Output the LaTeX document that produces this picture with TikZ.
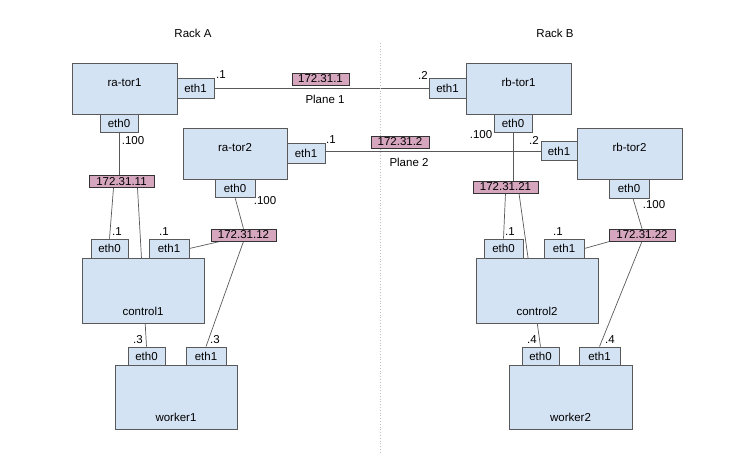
\documentclass[tikz,border=0pt]{standalone}
\usepackage{fontspec}
\setmainfont{Liberation Sans}
\usepackage{tikz}
\usetikzlibrary{positioning,backgrounds,calc}
\definecolor{hostblue}{HTML}{D4E3F4}
\definecolor{netpink}{HTML}{D5A6BD}
\definecolor{edge}{HTML}{595959}
\tikzstyle{host} = [rectangle, draw=edge, fill=hostblue, line width=0.8pt, inner sep=0pt]
\tikzstyle{port} = [rectangle, draw=edge, fill=hostblue, line width=0.8pt, inner sep=0pt, minimum width=38pt, minimum height=19pt]
\tikzstyle{net} = [rectangle, draw=black!80, fill=netpink, line width=0.7pt, inner sep=0pt, minimum height=12pt]
\tikzstyle{addr} = [inner sep=0pt]
\tikzstyle{link} = [draw=edge, line width=0.7pt]

\begin{document}
\begin{tikzpicture}[x=1pt, y=-1pt, font=\fontsize{11.5}{13}\selectfont]
        \useasboundingbox (0,0) rectangle (753,471);

        \node (za) at (193,33) {Rack A};
        \node (zb) at (555,33) {Rack B};
        \draw[dotted, black!25, line width=0.8pt] (380,43) -- (380,452);

        \node[host, minimum width=105pt, minimum height=51pt] (a1) at (124.5,88.5) {};
        \node[host, minimum width=104pt, minimum height=51pt] (a2) at (235,153.5) {};
        \node[host, minimum width=105pt, minimum height=51pt] (b1) at (518.5,88.5) {};
        \node[host, minimum width=105pt, minimum height=51pt] (b2) at (629.5,153.5) {};
        \node[host, minimum width=122pt, minimum height=65pt] (c1) at (143,290.5) {};
        \node[host, minimum width=122pt, minimum height=64pt] (w1) at (176,397) {};
        \node[host, minimum width=122pt, minimum height=65pt] (c2) at (537,290.5) {};
        \node[host, minimum width=123pt, minimum height=64pt] (w2) at (570.5,397) {};

        \node (h1) at ([yshift=-20pt]a1.north) {ra-tor1};
        \node (h2) at ([yshift=-20pt]a2.north) {ra-tor2};
        \node (h3) at ([yshift=-20pt]b1.north) {rb-tor1};
        \node (h4) at ([yshift=-20pt]b2.north) {rb-tor2};
        \node (h5) at ([yshift=12pt]c1.south) {control1};
        \node (h6) at ([yshift=12pt]w1.south) {worker1};
        \node (h7) at ([yshift=12pt]c2.south) {control2};
        \node (h8) at ([yshift=12pt]w2.south) {worker2};

        \node[port, minimum width=37pt, minimum height=20pt] (a1e1) at (195.5,88) {eth1};
        \node[port, minimum height=18pt] (a1e0) at (119,123) {eth0};
        \node[port, minimum height=20pt] (a2e1) at (306,153) {eth1};
        \node[port, minimum width=40pt, minimum height=18pt] (a2e0) at (235,188) {eth0};
        \node[port, minimum width=37pt, minimum height=20pt] (b1e1) at (447.5,88) {eth1};
        \node[port, minimum height=18pt] (b1e0) at (513,123) {eth0};
        \node[port, minimum width=36pt] (b2e1) at (559,151) {eth1};
        \node[port, minimum width=40pt] (b2e0) at (629,188.5) {eth0};
        \node[port, minimum width=37pt] (c1e0) at (109.5,248.5) {eth0};
        \node[port, minimum width=40pt] (c1e1) at (169,248.5) {eth1};
        \node[port, minimum width=37pt, minimum height=18pt] (w1e0) at (146.5,356) {eth0};
        \node[port, minimum width=40pt, minimum height=18pt] (w1e1) at (206,356) {eth1};
        \node[port, minimum width=39pt] (c2e0) at (503.5,248.5) {eth0};
        \node[port, minimum width=40pt] (c2e1) at (564,248.5) {eth1};
        \node[port, minimum width=37pt, minimum height=18pt] (w2e0) at (540.5,356) {eth0};
        \node[port, minimum width=41pt, minimum height=18pt] (w2e1) at (599.5,356) {eth1};

        \node[net, minimum width=57pt] (n1) at (320.5,79) {172.31.1};
        \node[net, minimum width=58pt] (n2) at (400,142) {172.31.2};
        \node[net, minimum width=65pt] (n11) at (121.5,181.5) {172.31.11};
        \node[net, minimum width=65pt] (n12) at (243.5,235) {172.31.12};
        \node[net, minimum width=65pt] (n21) at (505.5,187) {172.31.21};
        \node[net, minimum width=66pt] (n22) at (642,235) {172.31.22};

        \node (p1) at (325,99) {Plane 1};
        \node (p2) at (409,162) {Plane 2};

        \begin{scope}[on background layer]
        \draw[link] (a1e1.east) -- (b1e1.west);
        \draw[link] (a2e1.east |- b2e1) -- (b2e1.west);
        \draw[link] (a1e0.south) -- (a1e0.south |- n11.north);
        \draw[link] (b1e0.south) -- (b1e0.south |- n21.north);
        \draw[link] ([xshift=-8pt]n11.south) -- (c1e0.north);
        \draw[link] ([xshift=16pt]n11.south) -- (w1e0.north);
        \draw[link] (a2e0.south) -- (n12.north);
        \draw[link] ([xshift=-23pt]n12.south) -- (c1e1.east);
        \draw[link] (n12.south) -- (w1e1.north);
        \draw[link] (n21.south) -- (c2e0.north);
        \draw[link] ([xshift=13.5pt]n21.south) -- (w2e0.north);
        \draw[link] ([xshift=4pt]b2e0.south) -- (n22.north);
        \draw[link] ([xshift=-32pt]n22.south) -- (c2e1.east);
        \draw[link] (n22.south) -- (w2e1.north);
        \end{scope}

        \node[addr] (t1) at (221,75) {.1};
        \node[addr] (t2) at (133,141) {.100};
        \node[addr] (t3) at (331,140) {.1};
        \node[addr] (t4) at (265,201) {.100};
        \node[addr] (t5) at (423,75) {.2};
        \node[addr] (t6) at (481,135) {.100};
        \node[addr] (t7) at (534,140) {.2};
        \node[addr] (t8) at (654,205) {.100};
        \node[addr] (t9) at (117,232) {.1};
        \node[addr] (t10) at (164,232) {.1};
        \node[addr] (t11) at (138,340) {.3};
        \node[addr] (t12) at (215,340) {.3};
        \node[addr] (t13) at (510,232) {.1};
        \node[addr] (t14) at (558,232) {.1};
        \node[addr] (t15) at (532,340) {.4};
        \node[addr] (t16) at (610,340) {.4};
    \end{tikzpicture}
\end{document}
